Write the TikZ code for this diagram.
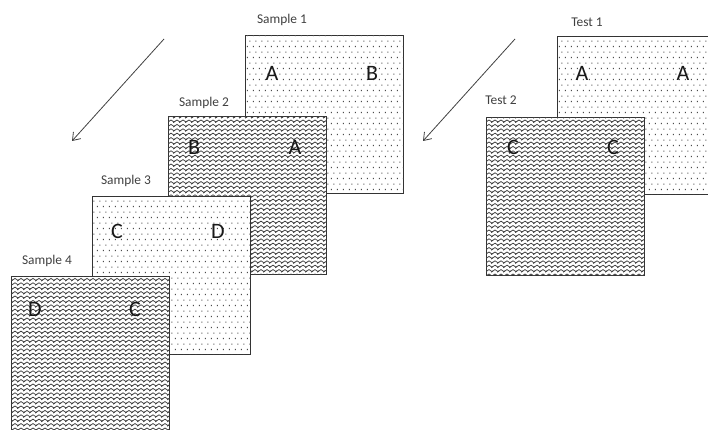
\documentclass[tikz,border=0pt]{standalone}
\usepackage{fontspec}
\setmainfont{Carlito}
\usetikzlibrary{patterns.meta,arrows.meta}
\tikzdeclarepattern{name=zz, type=uncolored,
  bottom left={(-1pt,-1pt)}, top right={(7pt,3.4pt)}, tile size={(6pt,4.4pt)},
  code={\draw[line width=0.75pt,line join=miter] (-1.5pt,-1pt) -- (0pt,0pt) -- (3pt,2pt) -- (6pt,0pt) -- (7.5pt,1pt);}}
\tikzdeclarepattern{name=dd, type=uncolored,
  bottom left={(0pt,0pt)}, top right={(6pt,11.4pt)}, tile size={(6pt,11.4pt)},
  code={\fill (1pt,1pt) rectangle (2.1pt,2.1pt); \fill (4pt,6.7pt) rectangle (5.1pt,7.8pt);}}
\definecolor{edge}{HTML}{333333}
\definecolor{lbl}{HTML}{404040}
\tikzset{
  sheet/.style={draw=edge, line width=0.9pt, fill=white, minimum width=158pt, minimum height=158pt, anchor=north west, inner sep=0pt},
  dotted sheet/.style={sheet, postaction={pattern={dd}, pattern color=black!70}},
  wavy sheet/.style={sheet, postaction={pattern={zz}, pattern color=black!75}},
  lab/.style={font=\fontsize{13.4pt}{15pt}\selectfont, text=lbl, inner sep=0pt},
  let/.style={font=\fontsize{22pt}{24pt}\selectfont, text=black!90, inner sep=0pt},
  arr/.style={draw=black!75, line width=0.8pt, -{Straight Barb[length=7pt,width=10pt,line width=0.8pt]}}
}
\begin{document}
\begin{tikzpicture}[x=1pt,y=-1pt]
\useasboundingbox (0,0) rectangle (708,430);
\clip (0,0) rectangle (708,430);
% arrows
\coordinate (a1s) at (164,39); \coordinate (a1e) at (72,141);
\coordinate (a2s) at (515,39); \coordinate (a2e) at (423,141);
\draw[arr] (a1s) -- (a1e);
\draw[arr] (a2s) -- (a2e);
% samples
\node[dotted sheet] (s1) at (245,35) {};
\node[lab] (l1) at (282,20) {Sample 1};
\node[let] (s1a) at (272,73) {A};
\node[let] (s1b) at (372,73) {B};
\node[wavy sheet] (s2) at (168,116) {};
\node[lab] (l2) at (204,103) {Sample 2};
\node[let] (s2b) at (194,147) {B};
\node[let] (s2a) at (295,147) {A};
\node[dotted sheet] (s3) at (92,196) {};
\node[lab] (l3) at (126,181) {Sample 3};
\node[let] (s3c) at (117,231) {C};
\node[let] (s3d) at (218,231) {D};
\node[wavy sheet] (s4) at (11,276) {};
\node[lab] (l4) at (47,261) {Sample 4};
\node[let] (s4d) at (35,309) {D};
\node[let] (s4c) at (135,309) {C};
% tests
\node[dotted sheet] (t1) at (557,36) {};
\node[lab] (tl1) at (587,22) {Test 1};
\node[let] (t1a) at (582,73) {A};
\node[let] (t1b) at (683,73) {A};
\node[wavy sheet] (t2) at (486,117) {};
\node[lab] (tl2) at (501,100) {Test 2};
\node[let] (t2c) at (513,147) {C};
\node[let] (t2d) at (613,147) {C};
\end{tikzpicture}
\end{document}
